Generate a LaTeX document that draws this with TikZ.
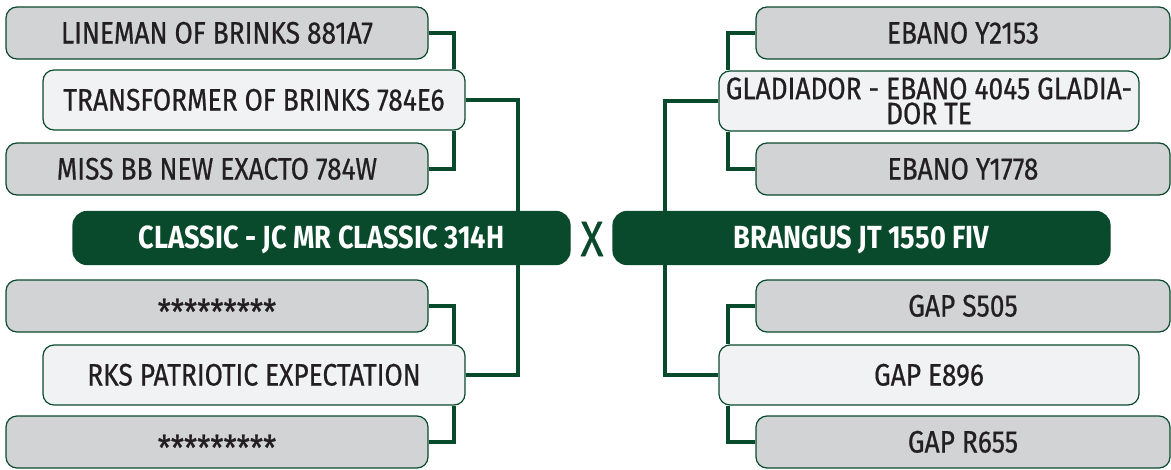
\documentclass[tikz,border=0pt]{standalone}
\usepackage{fontspec}
\usepackage{tikz}
\usepackage{xcolor}
\newfontfamily\pedfont[FakeStretch=0.85, FakeBold=0.6]{Fira Sans}
\newfontfamily\headfont[FakeStretch=0.85]{Fira Sans}
\definecolor{pedgreen}{RGB}{10,74,44}
\definecolor{sirefill}{RGB}{209,211,212}
\definecolor{kinfill}{RGB}{241,242,244}
\definecolor{inkdark}{RGB}{35,31,32}
\pgfdeclarelayer{background}
\pgfsetlayers{background,main}
\tikzset{
  card/.style={draw=pedgreen, line width=1.2pt, rounded corners=11pt, inner sep=0pt,
    text=inkdark, align=center, font=\pedfont\fontsize{31}{23}\selectfont},
  oneline/.style={text height=21pt, text depth=0pt},
  sirebox/.style={card, oneline, fill=sirefill, minimum height=52pt},
  kinbox/.style={card, fill=kinfill, minimum height=60pt},
  headbox/.style={card, oneline, fill=pedgreen, text=white, rounded corners=14pt,
    minimum width=497pt, minimum height=53pt, font=\headfont\bfseries\fontsize{32}{24}\selectfont},
  link/.style={pedgreen, line width=4pt},
}
\newcommand{\hidden}{\raisebox{-8pt}{\fontsize{35}{24}\selectfont *********}}

\begin{document}
\begin{tikzpicture}[x=1pt,y=-1pt]
  % mating: sire pedigree on the left, dam pedigree on the right
  \useasboundingbox (0,0) rectangle (1171,469);
  \node[headbox] (cla) at (321.5,238) {CLASSIC - JC MR CLASSIC 314H};
  \node[headbox] (bra) at (861.5,238) {BRANGUS JT 1550 FIV};
  \node[text=pedgreen, inner sep=0pt, font=\pedfont\fontsize{50}{50}\selectfont] (cross) at (592,239) {X};
  % left side
  \node[sirebox, minimum width=422pt] (lin) at (217,33) {LINEMAN OF BRINKS 881A7};
  \node[kinbox, oneline, minimum width=422pt] (tra) at (254,100) {TRANSFORMER OF BRINKS 784E6};
  \node[sirebox, minimum width=422pt] (mis) at (217,169) {MISS BB NEW EXACTO 784W};
  \node[sirebox, minimum width=422pt] (sta) at (217,306) {\hidden};
  \node[kinbox, oneline, minimum width=422pt] (rks) at (254,375) {RKS PATRIOTIC EXPECTATION};
  \node[sirebox, minimum width=422pt] (stb) at (217,442) {\hidden};
  % right side
  \node[sirebox, minimum width=414pt] (eba) at (963,33) {EBANO Y2153};
  \node[kinbox, minimum width=420pt] (gla) at (929,101)
    {GLADIADOR - EBANO 4045 GLADIA-\\[2pt]DOR TE};
  \node[sirebox, minimum width=414pt] (ebb) at (963,169) {EBANO Y1778};
  \node[sirebox, minimum width=414pt] (gas) at (963,306) {GAP S505};
  \node[kinbox, oneline, minimum width=420pt] (gae) at (929,375) {GAP E896};
  \node[sirebox, minimum width=414pt] (gar) at (963,442) {GAP R655};
  \begin{pgfonlayer}{background}
    \draw[link] (lin.east) -| ([xshift=-12pt]tra.north east);
    \draw[link] (mis.east) -| ([xshift=-12pt]tra.south east);
    \draw[link] (tra.east) -| ([xshift=-53pt]cla.north east);
    \draw[link] (sta.east) -| ([xshift=-12pt]rks.north east);
    \draw[link] (stb.east) -| ([xshift=-12pt]rks.south east);
    \draw[link] (rks.east) -| ([xshift=-53pt]cla.south east);
    \draw[link] (eba.west) -| ([xshift=10pt]gla.north west);
    \draw[link] (ebb.west) -| ([xshift=10pt]gla.south west);
    \draw[link] (gla.west) -| ([xshift=53pt]bra.north west);
    \draw[link] (gas.west) -| ([xshift=10pt]gae.north west);
    \draw[link] (gar.west) -| ([xshift=10pt]gae.south west);
    \draw[link] (gae.west) -| ([xshift=53pt]bra.south west);
  \end{pgfonlayer}
\end{tikzpicture}
\end{document}
